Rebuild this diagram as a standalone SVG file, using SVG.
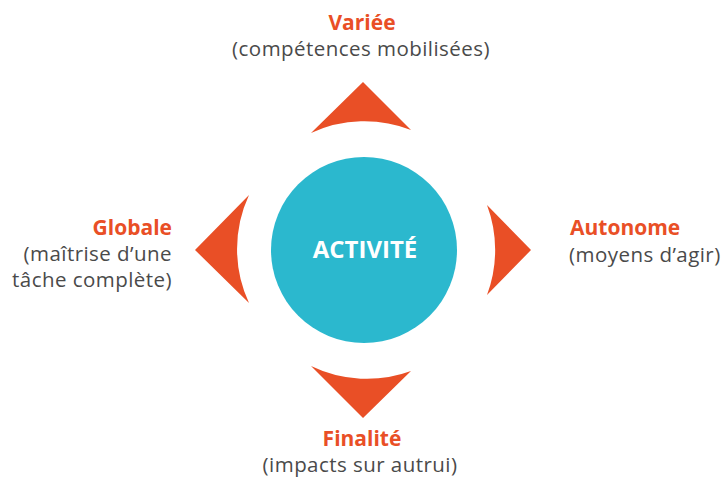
<svg xmlns="http://www.w3.org/2000/svg" width="723" height="479" viewBox="0 0 723 479">
<style>
.arr{fill:#E94F26}
.t{font-family:"Open Sans","Liberation Sans",sans-serif;font-size:20.5px;letter-spacing:0.45px;fill:#4a4a4a}
.h{font-family:"Open Sans","Liberation Sans",sans-serif;font-size:21px;font-weight:bold;fill:#E94F26}
.c{font-family:"Open Sans","Liberation Sans",sans-serif;font-size:24px;font-weight:bold;fill:#ffffff}
</style>
<rect width="723" height="479" fill="#ffffff"/>
<g id="activite">
<circle cx="364" cy="250" r="93" fill="#2BB8CE"/>
<text class="c" x="365" y="258" text-anchor="middle">ACTIVITÉ</text>
</g>
<g id="connectors">
<path id="arrow-top" class="arr" d="M311,133 L363,82 L411,130 A128,128 0 0 0 311,133 Z"/>
<path id="arrow-left" class="arr" d="M249,195 L195,250 L249,303 A128,128 0 0 1 249,195 Z"/>
<path id="arrow-right" class="arr" d="M487,205 L531,250 L487,295 A128,128 0 0 0 487,205 Z"/>
<path id="arrow-bottom" class="arr" d="M311,366 L363,418 L411,371 A128,128 0 0 1 311,366 Z"/>
</g>
<g id="variee">
<text class="h" x="362" y="30" text-anchor="middle">Variée</text>
<text class="t" x="361" y="56" text-anchor="middle">(compétences mobilisées)</text>
</g>
<g id="autonome">
<text class="h" x="570" y="235">Autonome</text>
<text class="t" x="569" y="262">(moyens d’agir)</text>
</g>
<g id="finalite">
<text class="h" x="362" y="446" text-anchor="middle">Finalité</text>
<text class="t" x="360" y="472" text-anchor="middle">(impacts sur autrui)</text>
</g>
<g id="globale">
<text class="h" x="172" y="235" text-anchor="end">Globale</text>
<text class="t" x="172" y="261" text-anchor="end">(maîtrise d’une</text>
<text class="t" x="172" y="287" text-anchor="end">tâche complète)</text>
</g>
</svg>
